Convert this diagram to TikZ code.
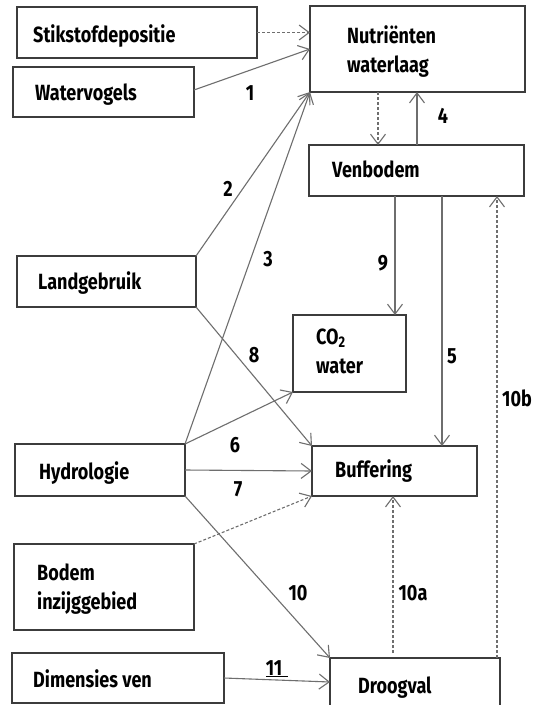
\documentclass[tikz,border=0pt]{standalone}
\usepackage{fontspec}
\setmainfont{Fira Sans}[FakeStretch=0.82]
\usetikzlibrary{arrows.meta}
\definecolor{boxc}{HTML}{3C3C3C}
\definecolor{arrc}{HTML}{6E6E6E}
\begin{document}
\begin{tikzpicture}[x=1pt,y=-1pt,
  box/.style={draw=boxc,line width=1.4pt,anchor=north west,inner sep=0pt,outer sep=0pt},
  openbox/.style={anchor=north west,inner sep=0pt,outer sep=0pt},
  boxline/.style={draw=boxc,line width=1.4pt},
  txt/.style={anchor=base west,inner sep=0pt,font=\bfseries\fontsize{22}{28.5}\selectfont,align=left,text=black},
  lab/.style={anchor=base,inner sep=0pt,font=\bfseries\fontsize{22}{24}\selectfont,text=black},
  arr/.style={draw=arrc,line width=1.1pt,-{Straight Barb[length=10pt,width=15pt,line width=1.1pt]}},
  darr/.style={arr,dash pattern=on 3pt off 2pt}]
\useasboundingbox (0,0) rectangle (536,705);
\fill[white] (0,0) rectangle (536,705);
% boxes
\node[box,minimum width=240pt,minimum height=51pt] (stik) at (17,7) {};
\node[box,minimum width=181pt,minimum height=50pt] (wvog) at (13,67) {};
\node[box,minimum width=215pt,minimum height=86pt] (nutr) at (310,6) {};
\node[box,minimum width=215pt,minimum height=51pt] (venb) at (309,145) {};
\node[box,minimum width=179pt,minimum height=51pt] (land) at (17,256) {};
\node[box,minimum width=113pt,minimum height=77pt] (co2) at (293,315) {};
\node[box,minimum width=165pt,minimum height=50pt] (buff) at (312,446) {};
\node[box,minimum width=170pt,minimum height=52pt] (hydro) at (15,444) {};
\node[box,minimum width=180pt,minimum height=86pt] (bodem) at (14,544) {};
\node[box,minimum width=212pt,minimum height=50pt] (dim) at (12,653) {};
\node[openbox,minimum width=170pt,minimum height=60pt] (droog) at (330,658) {};
\draw[boxline] (droog.south west) |- (droog.north east) -- (droog.south east);
% texts
\node[txt] (stikT) at (33,42) {Stikstofdepositie};
\node[txt] (wvogT) at (35,100) {Watervogels};
\node[txt] (nutrT) at (347,72) {Nutriënten\\waterlaag};
\node[txt] (venbT) at (332,177) {Venbodem};
\node[txt] (landT) at (38,289) {Landgebruik};
\node[txt] (co2T) at (316,373) {CO\textsubscript{2}\\water};
\node[txt] (buffT) at (335,477) {Buffering};
\node[txt] (hydroT) at (39,479) {Hydrologie};
\node[txt] (bodemT) at (37,609) {Bodem\\inzijggebied};
\node[txt] (dimT) at (33,687) {Dimensies ven};
\node[txt] (droogT) at (358,693) {Droogval};
% arrows
\draw[darr] (stik.east) -- (nutr.west |- stik.east);
\draw[arr] ([yshift=2pt]wvog.east) -- (nutr.west);
\draw[arr] (land.north east) -- (nutr.south west);
\draw[arr] (hydro.north east) -- (nutr.south west);
\draw[darr] ([xshift=68pt]nutr.south west) -- ([xshift=69pt]venb.north west);
\draw[arr] ([xshift=108pt]venb.north west) -- ([xshift=107pt]nutr.south west);
\draw[arr] ([xshift=86pt]venb.south west) -- ([xshift=102pt]co2.north west);
\draw[arr] ([xshift=133pt]venb.south west) -- ([xshift=130pt]buff.north west);
\draw[darr] ([xshift=167pt]droog.north west) -- ([xshift=188pt]venb.south west);
\draw[arr] (land.south east) -- (buff.north west);
\draw[arr] (hydro.north east) -- (co2.south west);
\draw[arr] (hydro.east) -- (buff.west);
\draw[darr] (bodem.north east) -- (buff.south west);
\draw[arr] (hydro.south east) -- (droog.north west);
\draw[darr] ([xshift=63pt,yshift=5pt]droog.north west) -- ([xshift=81pt]buff.south west);
\draw[arr] (dim.east) -- ([yshift=6pt]droog.west);
% labels
\node[lab] (l1) at (250,100) {1};
\node[lab] (l2) at (228,196) {2};
\node[lab] (l3) at (268,266) {3};
\node[lab] (l4) at (443,123) {4};
\node[lab] (l9) at (383,270) {9};
\node[lab] (l5) at (452,363) {5};
\node[lab] (l10b) at (517,406) {10b};
\node[lab] (l8) at (254,362) {8};
\node[lab] (l6) at (235,452) {6};
\node[lab] (l7) at (238,496) {7};
\node[lab] (l10) at (298,600) {10};
\node[lab] (l10a) at (413,600) {10a};
\node[lab] (l11) at (277,675) {\underline{11\kern6pt}};
\end{tikzpicture}
\end{document}
